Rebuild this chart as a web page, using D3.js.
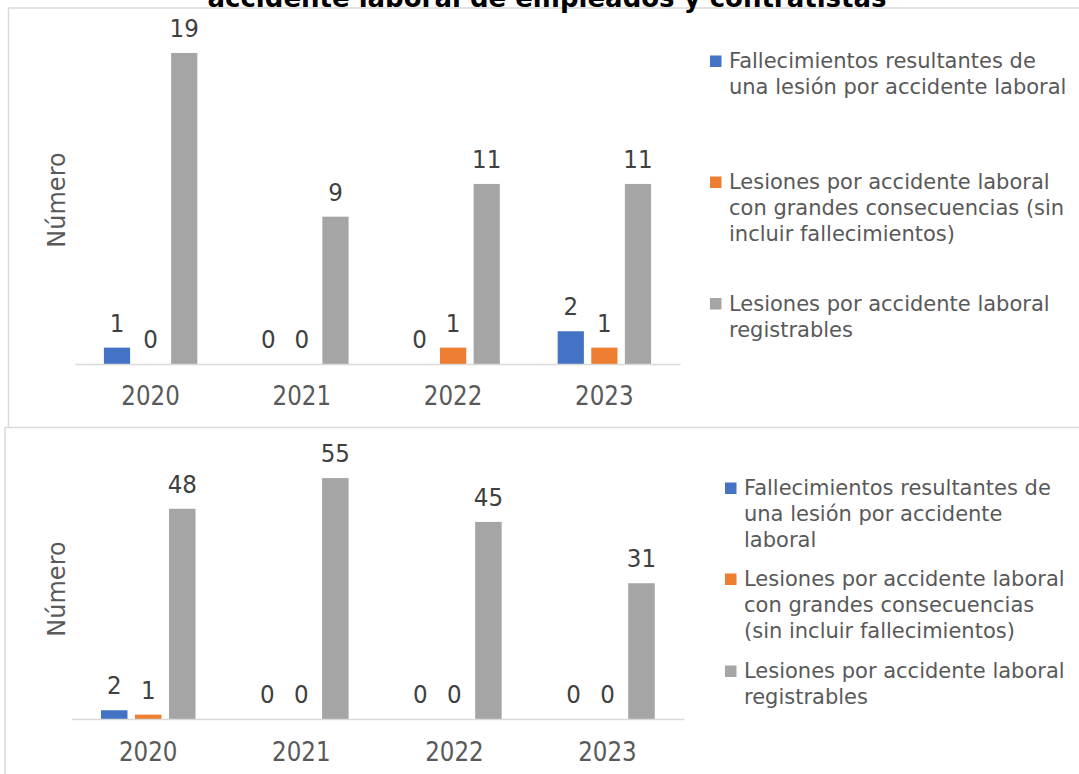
<!DOCTYPE html>
<html>
<head>
<meta charset="utf-8">
<script src="https://cdn.jsdelivr.net/npm/d3@7"></script>
<style>
  html, body { margin: 0; padding: 0; background: #ffffff; overflow: hidden; }
  svg { display: block; }
  text { font-family: "DejaVu Sans", Verdana, sans-serif; }
</style>
</head>
<body>
<svg id="chart" width="1079" height="774"></svg>
<script>
// ---------- data ----------
const years = ["2020", "2021", "2022", "2023"];
const seriesKeys = ["fallecimientos", "graves", "registrables"];
const seriesColors = ["#4472C4", "#ED7D31", "#A5A5A5"];

// Chart 1 (empleados y contratistas)
const fallecimientos1 = [1, 0, 0, 2];
const graves1 = [0, 0, 1, 1];
const registrables1 = [19, 9, 11, 11];
const yMax1 = 20;

// Chart 2
const fallecimientos2 = [2, 0, 0, 0];
const graves2 = [1, 0, 0, 0];
const registrables2 = [48, 55, 45, 31];
const yMax2 = 60;

const titleText = "accidente laboral de empleados y contratistas";
const yAxisTitle = "Número";

const legendLines1 = [
  ["Fallecimientos resultantes de", "una lesión por accidente laboral"],
  ["Lesiones por accidente laboral", "con grandes consecuencias (sin", "incluir fallecimientos)"],
  ["Lesiones por accidente laboral", "registrables"]
];
const legendLines2 = [
  ["Fallecimientos resultantes de", "una lesión por accidente", "laboral"],
  ["Lesiones por accidente laboral", "con grandes consecuencias", "(sin incluir fallecimientos)"],
  ["Lesiones por accidente laboral", "registrables"]
];

// ---------- drawing ----------
const svg = d3.select("#chart");
const textColor = "#595959";
const gridColor = "#d9d9d9";

// chart frames
svg.append("rect").attr("x", 8.5).attr("y", 8).attr("width", 1200).attr("height", 420)
  .attr("fill", "#fff").attr("stroke", gridColor).attr("stroke-width", 1.5);
svg.append("rect").attr("x", 5).attr("y", 427.5).attr("width", 1200).attr("height", 500)
  .attr("fill", "#fff").attr("stroke", gridColor).attr("stroke-width", 1.5);

// partially visible title (cut by the top edge, as in the source)
svg.append("text").attr("x", 547).attr("y", 7).attr("text-anchor", "middle")
  .attr("font-weight", "bold").attr("font-size", 26).attr("fill", "#000")
  .text(titleText);

function drawChart(cfg) {
  const rows = years.map((y, i) => ({
    year: y,
    fallecimientos: cfg.series[0][i],
    graves: cfg.series[1][i],
    registrables: cfg.series[2][i]
  }));
  const g = svg.append("g");

  const x0 = d3.scaleBand().domain(years).range([cfg.x0, cfg.x1]).paddingInner(0).paddingOuter(0);
  const x1 = d3.scaleBand().domain(seriesKeys).range([0, x0.bandwidth()])
    .paddingInner(0.22).paddingOuter(0.86);
  const y = d3.scaleLinear().domain([0, cfg.yMax]).range([cfg.base, cfg.top]);

  // bars
  const groups = g.selectAll("g.year").data(rows).join("g")
    .attr("transform", d => `translate(${x0(d.year)},0)`);
  groups.selectAll("rect").data(d => seriesKeys.map((k, j) => ({ key: k, value: d[k], j })))
    .join("rect")
    .attr("x", d => x1(d.key))
    .attr("width", x1.bandwidth())
    .attr("y", d => y(d.value))
    .attr("height", d => y(0) - y(d.value))
    .attr("fill", d => seriesColors[d.j]);
  groups.selectAll("text").data(d => seriesKeys.map((k, j) => ({ key: k, value: d[k], j })))
    .join("text")
    .attr("transform", d => `translate(${x1(d.key) + x1.bandwidth() / 2},${y(d.value) - 16}) scale(1,1.08)`)
    .attr("text-anchor", "middle")
    .attr("font-size", 23)
    .attr("fill", "#404040")
    .text(d => d.value);

  // x axis
  const axis = g.append("g").attr("transform", `translate(0,${cfg.base})`)
    .call(d3.axisBottom(x0).tickSize(0).tickPadding(0));
  axis.select(".domain").attr("stroke", gridColor).attr("stroke-width", 1.5);
  axis.selectAll(".tick text")
    .attr("dy", 0).attr("y", 0)
    .attr("transform", `translate(0,${cfg.tickOffset}) scale(1,1.12)`)
    .attr("font-size", 23).attr("fill", textColor)
    .attr("font-family", "DejaVu Sans, Verdana, sans-serif");

  // y axis title
  g.append("text")
    .attr("transform", `translate(${cfg.ytX},${cfg.ytY}) rotate(-90)`)
    .attr("text-anchor", "middle")
    .attr("font-size", 24).attr("fill", textColor)
    .text(yAxisTitle);

  // legend
  const leg = g.append("g");
  cfg.legend.forEach((lines, i) => {
    const b = cfg.legBase[i];
    leg.append("rect").attr("x", cfg.legX).attr("y", b - 12.5)
      .attr("width", 11.5).attr("height", 11.5).attr("fill", seriesColors[i]);
    const t = leg.append("text").attr("x", cfg.legX + 19).attr("y", b)
      .attr("font-size", 21).attr("fill", textColor);
    lines.forEach((ln, k) => {
      t.append("tspan").attr("x", cfg.legX + 19).attr("y", b + k * 26).text(ln);
    });
  });
}

drawChart({
  series: [fallecimientos1, graves1, registrables1],
  yMax: yMax1,
  x0: 75, x1: 680,
  base: 364, top: 364 - 327.4,
  tickOffset: 41,
  ytX: 65, ytY: 200,
  legend: legendLines1,
  legX: 710,
  legBase: [68, 189, 310.5]
});

drawChart({
  series: [fallecimientos2, graves2, registrables2],
  yMax: yMax2,
  x0: 71.7, x1: 684,
  base: 719, top: 719 - 262.8,
  tickOffset: 42,
  ytX: 65, ytY: 589,
  legend: legendLines2,
  legX: 725,
  legBase: [495, 586, 678]
});
</script>
</body>
</html>
